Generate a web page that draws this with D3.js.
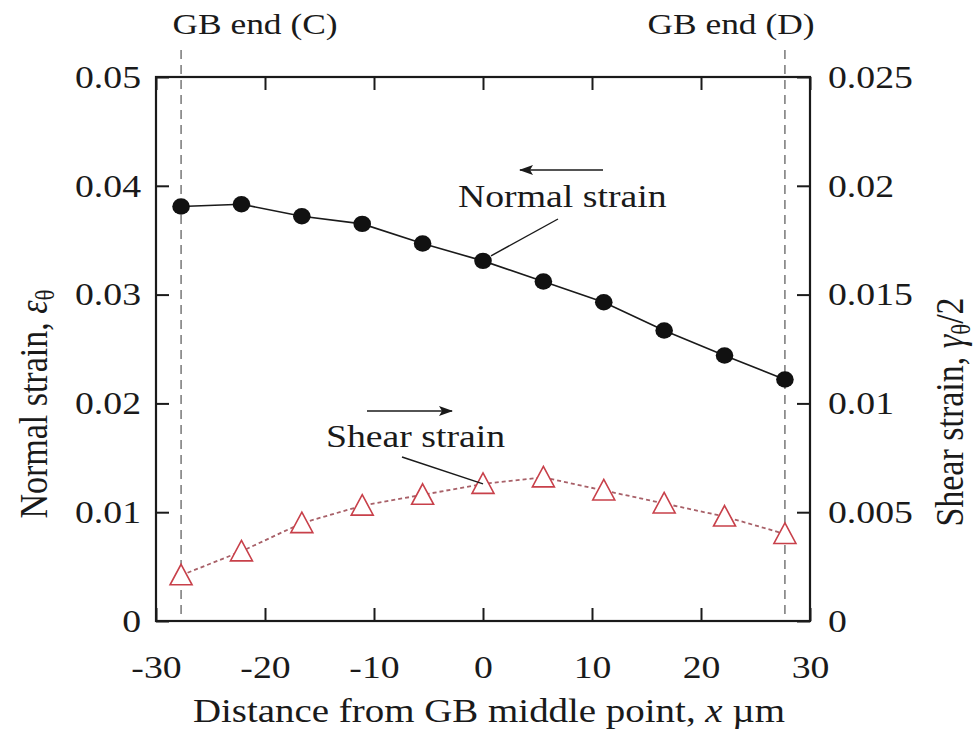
<!DOCTYPE html>
<html>
<head>
<meta charset="utf-8">
<script src="https://cdn.jsdelivr.net/npm/d3@7"></script>
<style>
  body { margin: 0; background: #fff; }
  svg text { font-family: "Liberation Serif", "Times New Roman", serif; fill: #1a1a1a; }
</style>
</head>
<body>
<svg id="chart" width="979" height="734"></svg>
<script>
// positions along the GB (um)
const xPos = [-27.7, -22.16, -16.62, -11.08, -5.54, 0, 5.54, 11.08, 16.62, 22.16, 27.7];
// normal strain (left axis)
const normalStrain = [0.0381, 0.0383, 0.0372, 0.0365, 0.0347, 0.0331, 0.0312, 0.0293, 0.0267, 0.0244, 0.0222];
// shear strain gamma/2 (right axis)
const shearStrain = [0.0021, 0.0032, 0.0045, 0.0053, 0.0058, 0.0063, 0.0066, 0.0060, 0.0054, 0.0048, 0.0040];
const gbEnds = [-27.7, 27.7];
const xTicks = [-30, -20, -10, 0, 10, 20, 30];
const yLeftTicks = [0, 0.01, 0.02, 0.03, 0.04, 0.05];
const yRightTicks = [0, 0.005, 0.01, 0.015, 0.02, 0.025];

const svg = d3.select("#chart");
const plotL = 156, plotR = 810, plotT = 77, plotB = 621;
const stretchX = 1.18;   // the figure's text is a bit wide

let x = d3.scaleLinear().domain([-30, 30]).range([plotL, plotR]);
let yL = d3.scaleLinear().domain([0, 0.05]).range([plotB, plotT]);
let yR = d3.scaleLinear().domain([0, 0.025]).range([plotB, plotT]);

const fmt = d => d === 0 ? "0" : String(+d.toFixed(3));

// widen a text horizontally around its own anchor x
function widen(sel) {
    sel.each(function () {
        let ax = +(this.getAttribute("x") || 0);
        d3.select(this).attr("transform", `translate(${ax * (1 - stretchX)},0) scale(${stretchX},1)`);
    });
}

// gb end dashed lines
svg.append("g").selectAll("line")
    .data(gbEnds)
    .enter().append("line")
    .attr("x1", d => x(d)).attr("x2", d => x(d))
    .attr("y1", 50).attr("y2", plotB)
    .attr("stroke", "#555")
    .attr("stroke-width", 1.2)
    .attr("stroke-dasharray", "9,6");

svg.append("text").attr("x", 255).attr("y", 34)
    .attr("text-anchor", "middle").style("font-size", "30px").text("GB end (C)").call(widen);
svg.append("text").attr("x", 731).attr("y", 34)
    .attr("text-anchor", "middle").style("font-size", "30px").text("GB end (D)").call(widen);

// axes
function styleAxis(g) {
    g.select(".domain").remove();
    g.selectAll(".tick line").attr("stroke", "#1a1a1a").attr("stroke-width", 2);
    g.selectAll(".tick text").style("font-size", "32px").attr("fill", "#1a1a1a").call(widen);
}

svg.append("g").attr("transform", `translate(0,${plotB})`)
    .call(d3.axisBottom(x).tickValues(xTicks).tickSize(-13).tickSizeOuter(0)
        .tickPadding(34).tickFormat(d => String(d)))
    .call(styleAxis);
svg.append("g").attr("transform", `translate(0,${plotT})`)
    .call(d3.axisTop(x).tickValues(xTicks).tickSize(-13).tickSizeOuter(0).tickFormat(""))
    .call(styleAxis);
svg.append("g").attr("transform", `translate(${plotL},0)`)
    .call(d3.axisLeft(yL).tickValues(yLeftTicks).tickSize(-13).tickSizeOuter(0)
        .tickPadding(15).tickFormat(fmt))
    .call(styleAxis);
svg.append("g").attr("transform", `translate(${plotR},0)`)
    .call(d3.axisRight(yR).tickValues(yRightTicks).tickSize(-13).tickSizeOuter(0)
        .tickPadding(18).tickFormat(fmt))
    .call(styleAxis);

svg.append("rect")
    .attr("x", plotL).attr("y", plotT)
    .attr("width", plotR - plotL).attr("height", plotB - plotT)
    .attr("fill", "none").attr("stroke", "#1a1a1a").attr("stroke-width", 2.2);

// shear strain series
let shearLine = d3.line().x((d, i) => x(xPos[i])).y(d => yR(d));
svg.append("path").datum(shearStrain)
    .attr("d", shearLine)
    .attr("fill", "none")
    .attr("stroke", "#a86068")
    .attr("stroke-width", 1.8)
    .attr("stroke-dasharray", "4,3");

svg.append("g").selectAll("path")
    .data(shearStrain)
    .enter().append("path")
    .attr("transform", (d, i) => "translate(" + x(xPos[i]) + "," + yR(d) + ")")
    .attr("d", "M0,-11L11,9.5L-11,9.5Z")
    .attr("fill", "#fff")
    .attr("stroke", "#c8404a")
    .attr("stroke-width", 1.6);

// normal strain series
let normalLine = d3.line().x((d, i) => x(xPos[i])).y(d => yL(d));
svg.append("path").datum(normalStrain)
    .attr("d", normalLine)
    .attr("fill", "none")
    .attr("stroke", "#1a1a1a")
    .attr("stroke-width", 1.6);

svg.append("g").selectAll("ellipse")
    .data(normalStrain)
    .enter().append("ellipse")
    .attr("cx", (d, i) => x(xPos[i]))
    .attr("cy", d => yL(d))
    .attr("rx", 8.8).attr("ry", 8.2)
    .attr("fill", "#111");

// annotations
svg.append("defs").append("marker")
    .attr("id", "arrow")
    .attr("viewBox", "0 0 14 10")
    .attr("refX", 13).attr("refY", 5)
    .attr("markerWidth", 14).attr("markerHeight", 10)
    .attr("markerUnits", "userSpaceOnUse")
    .attr("orient", "auto")
    .append("path").attr("d", "M0,0L14,5L0,10L3,5Z").attr("fill", "#1a1a1a");

svg.append("line").attr("x1", 603).attr("y1", 170).attr("x2", 520).attr("y2", 170)
    .attr("stroke", "#1a1a1a").attr("stroke-width", 1.6).attr("marker-end", "url(#arrow)");
svg.append("text").attr("x", 458).attr("y", 207).style("font-size", "32px").text("Normal strain").call(widen);
svg.append("line").attr("x1", 558).attr("y1", 219).attr("x2", x(0) + 8).attr("y2", yL(normalStrain[5]) - 5)
    .attr("stroke", "#1a1a1a").attr("stroke-width", 1.4);

svg.append("line").attr("x1", 367).attr("y1", 411).attr("x2", 452).attr("y2", 411)
    .attr("stroke", "#1a1a1a").attr("stroke-width", 1.6).attr("marker-end", "url(#arrow)");
svg.append("text").attr("x", 326).attr("y", 447).style("font-size", "32px").text("Shear strain").call(widen);
svg.append("line").attr("x1", 402).attr("y1", 457).attr("x2", x(0)).attr("y2", yR(shearStrain[5]))
    .attr("stroke", "#1a1a1a").attr("stroke-width", 1.4);

// axis titles
svg.append("text")
    .attr("transform", `translate(489,722) scale(${stretchX},1)`)
    .attr("text-anchor", "middle").style("font-size", "33px")
    .call(t => {
        t.append("tspan").text("Distance from GB middle point, ");
        t.append("tspan").style("font-style", "italic").text("x");
        t.append("tspan").text(" \u00b5m");
    });

svg.append("text")
    .attr("transform", `translate(47,404) rotate(-90) scale(1,${stretchX})`)
    .attr("text-anchor", "middle").style("font-size", "34px")
    .call(t => {
        t.append("tspan").text("Normal strain, ");
        t.append("tspan").style("font-style", "italic").text("\u03b5");
        t.append("tspan").attr("dy", 6).style("font-size", "23px").text("\u03b8");
    });

svg.append("text")
    .attr("transform", `translate(963,412) rotate(-90) scale(1,${stretchX})`)
    .attr("text-anchor", "middle").style("font-size", "34px")
    .call(t => {
        t.append("tspan").text("Shear strain, ");
        t.append("tspan").style("font-style", "italic").text("\u03b3");
        t.append("tspan").attr("dy", 6).style("font-size", "23px").text("\u03b8");
        t.append("tspan").attr("dy", -6).text("/2");
    });
</script>
</body>
</html>
